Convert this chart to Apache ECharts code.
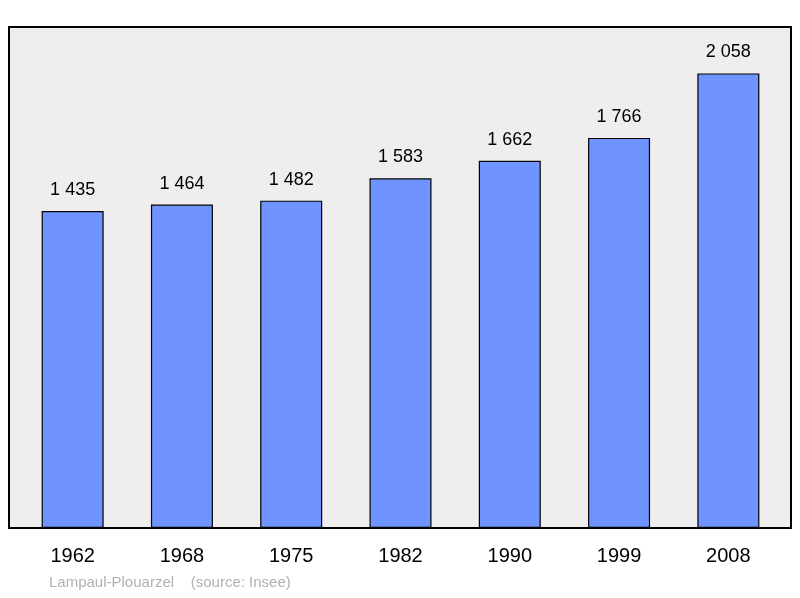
<!DOCTYPE html>
<html>
<head>
<meta charset="utf-8">
<script src="https://cdn.jsdelivr.net/npm/echarts@6/dist/echarts.min.js"></script>
<style>html,body{margin:0;padding:0;background:#fff}#chart{width:800px;height:598px}</style>
</head>
<body>
<div id="chart"></div>
<script>
var years = ['1962', '1968', '1975', '1982', '1990', '1999', '2008'];
var population = [1435, 1464, 1482, 1583, 1662, 1766, 2058];

var chart = echarts.init(document.getElementById('chart'));
chart.setOption({
  animation: false,
  graphic: [
    {
      type: 'rect', z: 0,
      shape: {x: 9, y: 27, width: 782, height: 501},
      style: {fill: '#eeeeee', stroke: '#000', lineWidth: 2}
    },
    {
      type: 'text', left: 49, top: 575,
      style: {text: 'Lampaul-Plouarzel    (source: Insee)', fill: '#b0b0b0', font: '15px "Liberation Sans", Arial, sans-serif'}
    }
  ],
  grid: {left: 18, right: 17, top: 27, bottom: 70},
  xAxis: {
    type: 'category',
    data: years,
    axisLine: {show: false},
    axisTick: {show: false},
    axisLabel: {color: '#000', fontSize: 20, margin: 18, fontFamily: 'Liberation Sans'}
  },
  yAxis: {type: 'value', min: 0, max: 2268, show: false},
  series: [{
    type: 'bar',
    data: population,
    barWidth: 62,
    z: 5,
    itemStyle: {color: '#7094ff', borderColor: '#000', borderWidth: 1.2},
    label: {
      show: true,
      position: 'top',
      distance: 12,
      color: '#000',
      fontSize: 18,
      fontFamily: 'Liberation Sans',
      formatter: function(p) { return String(p.value).replace(/\B(?=(\d{3})+(?!\d))/g, ' '); }
    }
  }]
});
</script>
</body>
</html>
